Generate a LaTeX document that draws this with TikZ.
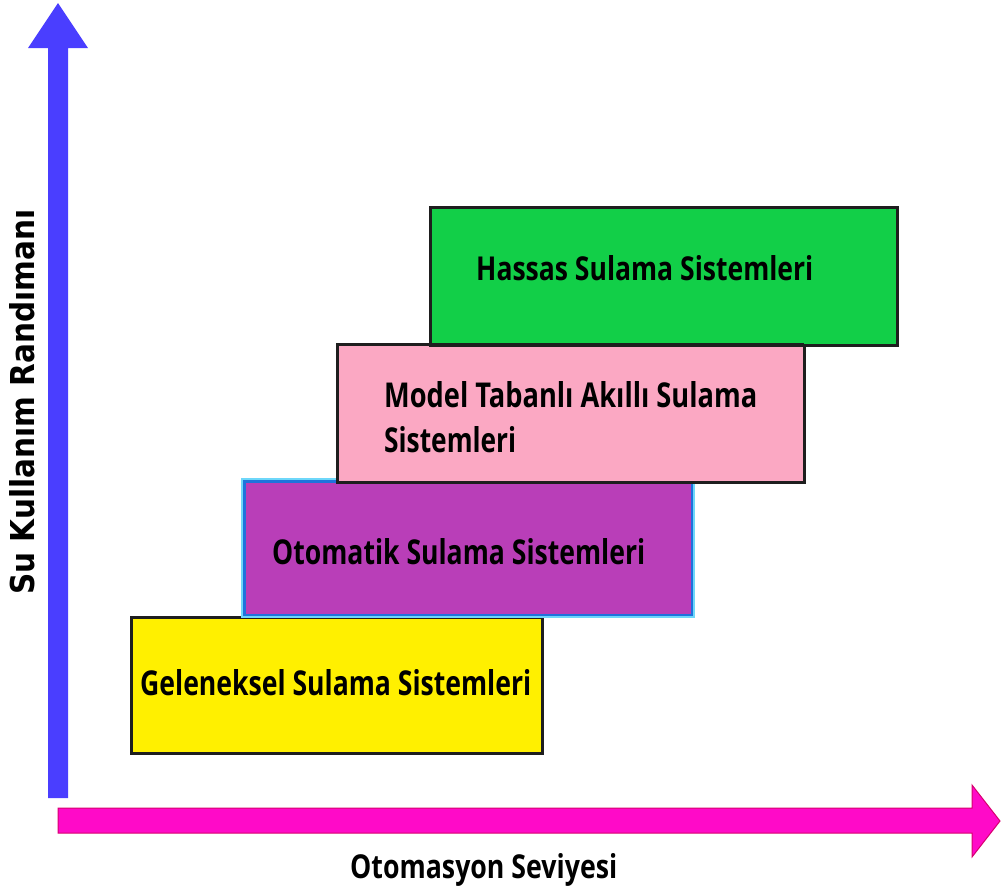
\documentclass[tikz,border=0pt]{standalone}
\usepackage{fontspec}
\setmainfont{Open Sans}
\newfontfamily\axisfont{DejaVu Sans}
\usepackage{graphicx}
\usetikzlibrary{calc}
\definecolor{axblue}{RGB}{74,62,255}
\definecolor{axmag}{RGB}{255,10,200}
\definecolor{axmagdark}{RGB}{215,0,110}
\definecolor{byellow}{RGB}{255,240,0}
\definecolor{bpurple}{RGB}{185,62,184}
\definecolor{bpink}{RGB}{251,168,195}
\definecolor{bgreen}{RGB}{18,207,72}
\definecolor{bblue}{RGB}{30,115,220}
\definecolor{bcyan}{RGB}{110,215,250}
\definecolor{bdark}{RGB}{30,30,30}
\newcommand{\fitbox}[3]{\resizebox{#1}{#2}{\bfseries #3}}
\begin{document}
\begin{tikzpicture}[x=1pt,y=-1pt,
  stair/.style={draw=bdark,line width=3pt,inner sep=0pt,outer sep=0pt},
  lbl/.style={inner sep=0pt,anchor=base west}]
\useasboundingbox (0,0) rectangle (1002,892);
% axes
\fill[axblue] (48,798) -- (48,48) -- (28,48) -- (58,3) -- (88,48) -- (68,48) -- (68,798) -- cycle;
\filldraw[fill=axmag,draw=axmagdark,line width=1pt] (58,808) -- (972,808) -- (972,785) -- (1000,821) -- (972,857) -- (972,833) -- (58,833) -- cycle;
% boxes
\node[stair,fill=byellow,minimum width=411pt,minimum height=136pt] (trad) at (337,685.5) {};
\node[stair,draw=bcyan,line width=4pt,fill=bpurple,minimum width=450pt,minimum height=136pt] (auto) at (468,548) {};
\draw[bblue,line width=2.5pt] ($(auto.south west)+(1.25,-1.25)$) rectangle ($(auto.north east)+(-1.25,1.25)$);
\node[stair,fill=bpink,minimum width=467pt,minimum height=138pt] (model) at (570.5,413) {};
\node[stair,fill=bgreen,minimum width=467pt,minimum height=138pt] (prec) at (663.5,276) {};
\draw[bdark,line width=3pt] (model.north west) -- (model.north east);
% labels
\node[lbl] (tprec) at (476,280) {\fitbox{337pt}{25pt}{Hassas Sulama Sistemleri}};
\node[lbl] (tmodel1) at (384,407) {\fitbox{373pt}{26pt}{Model Tabanlı Akıllı Sulama}};
\node[lbl] (tmodel2) at (384,452) {\fitbox{132pt}{26pt}{Sistemleri}};
\node[lbl] (tauto) at (272,564) {\fitbox{373pt}{26pt}{Otomatik Sulama Sistemleri}};
\node[lbl] (ttrad) at (140,695) {\fitbox{391pt}{26pt}{Geleneksel Sulama Sistemleri}};
\node[lbl] (xlab) at (350,878) {\fitbox{267pt}{25pt}{Otomasyon Seviyesi}};
\node[lbl,rotate=90] (ylab) at (34,595) {\resizebox{385pt}{25pt}{\axisfont\bfseries Su Kullanım Randımanı}};
\end{tikzpicture}
\end{document}
